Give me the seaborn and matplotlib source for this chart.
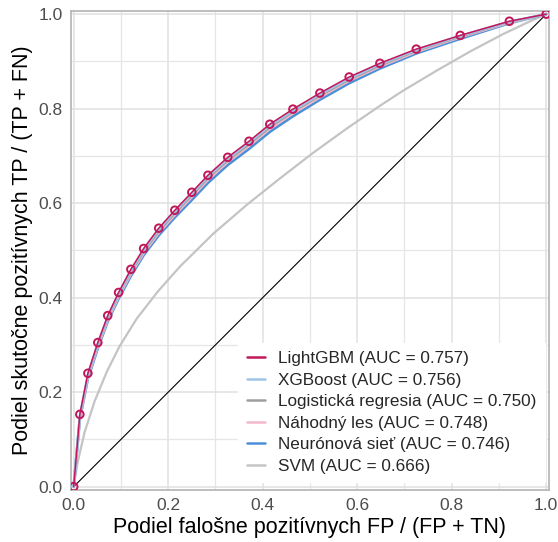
import numpy as np
import pandas as pd
import matplotlib
matplotlib.use("Agg")
import matplotlib.pyplot as plt
import seaborn as sns
from matplotlib.ticker import MultipleLocator

# ---- data ----
roc_fpr = [0.0, 0.013, 0.030, 0.051, 0.072, 0.095, 0.121, 0.148, 0.180, 0.214, 0.250,
           0.284, 0.326, 0.371, 0.415, 0.464, 0.521, 0.583, 0.648, 0.725, 0.818, 0.922, 1.0]
lgbm_tpr = [0.0, 0.153, 0.240, 0.305, 0.362, 0.411, 0.460, 0.504, 0.547, 0.585, 0.623,
            0.659, 0.697, 0.731, 0.767, 0.799, 0.833, 0.867, 0.896, 0.926, 0.955, 0.985, 1.0]
xgb_tpr = [0.0, 0.150, 0.237, 0.302, 0.359, 0.408, 0.457, 0.501, 0.544, 0.582, 0.620,
           0.656, 0.694, 0.728, 0.764, 0.796, 0.830, 0.864, 0.894, 0.924, 0.954, 0.984, 1.0]
logreg_tpr = [0.0, 0.147, 0.234, 0.299, 0.356, 0.405, 0.453, 0.497, 0.540, 0.578, 0.616,
              0.652, 0.690, 0.724, 0.760, 0.793, 0.827, 0.861, 0.891, 0.922, 0.952, 0.983, 1.0]
rf_tpr = [0.0, 0.145, 0.232, 0.296, 0.353, 0.402, 0.450, 0.494, 0.537, 0.575, 0.613,
          0.649, 0.687, 0.721, 0.757, 0.790, 0.824, 0.859, 0.889, 0.920, 0.951, 0.982, 1.0]
nn_tpr = [0.0, 0.143, 0.229, 0.293, 0.350, 0.398, 0.446, 0.490, 0.532, 0.570, 0.607,
          0.643, 0.681, 0.715, 0.751, 0.784, 0.819, 0.854, 0.885, 0.917, 0.948, 0.981, 1.0]

svm_fpr = [0.0, 0.008, 0.023, 0.044, 0.070, 0.097, 0.133, 0.178, 0.225, 0.295, 0.367,
           0.436, 0.506, 0.578, 0.648, 0.697, 0.769, 0.839, 0.909, 0.966, 1.0]
svm_tpr = [0.0, 0.050, 0.115, 0.180, 0.243, 0.297, 0.355, 0.413, 0.466, 0.535, 0.597,
           0.652, 0.706, 0.758, 0.806, 0.838, 0.881, 0.921, 0.958, 0.985, 1.0]

labels = ["LightGBM (AUC = 0.757)", "XGBoost (AUC = 0.756)", "Logistická regresia (AUC = 0.750)",
          "Náhodný les (AUC = 0.748)", "Neurónová sieť (AUC = 0.746)", "SVM (AUC = 0.666)"]
colors = ["#C2185B", "#9EC5E8", "#9E9E9E", "#F4B8CB", "#4A90D9", "#C4C4C4"]

ticks = [0.0, 0.2, 0.4, 0.6, 0.8, 1.0]
tick_labels = ["0.0", "0.2", "0.4", "0.6", "0.8", "1.0"]

# ---- figure ----
sns.set_style("white")
plt.rcParams["font.family"] = ["Liberation Sans", "DejaVu Sans"]

fig = plt.figure(figsize=(5.58, 5.42), dpi=100)
ax = fig.add_axes([0.127, 0.096, 0.857, 0.884])

# diagonal
ax.plot([0, 1], [0, 1], color="black", linewidth=0.8, zorder=1)

curves = [
    (svm_fpr, svm_tpr, labels[5], colors[5], 1.6),
    (roc_fpr, nn_tpr, labels[4], colors[4], 2.0),
    (roc_fpr, rf_tpr, labels[3], colors[3], 1.8),
    (roc_fpr, logreg_tpr, labels[2], colors[2], 1.3),
    (roc_fpr, xgb_tpr, labels[1], colors[1], 1.8),
    (roc_fpr, lgbm_tpr, labels[0], colors[0], 1.1),
]
for fx, fy, lab, col, lw in curves:
    df = pd.DataFrame({"fpr": fx, "tpr": fy})
    sns.lineplot(data=df, x="fpr", y="tpr", ax=ax, color=col, linewidth=lw,
                 sort=False, estimator=None, label=lab, zorder=3)

df_pts = pd.DataFrame({"fpr": roc_fpr, "tpr": lgbm_tpr})
sns.scatterplot(data=df_pts, x="fpr", y="tpr", ax=ax, facecolor="none",
                edgecolor=colors[0], linewidth=1.4, s=30, zorder=4, legend=False)

h, l = ax.get_legend_handles_labels()
order = [l.index(lab) for lab in labels]
leg = ax.legend([h[i] for i in order], [l[i] for i in order], loc="lower right",
                bbox_to_anchor=(1.008, 0.0), frameon=True, fancybox=False,
                framealpha=1.0, edgecolor="white", facecolor="white",
                fontsize=12.3, handlelength=1.1, handletextpad=0.75,
                labelspacing=0.38, borderpad=0.5, borderaxespad=0.45)
for line in leg.get_lines():
    line.set_linewidth(1.8)
leg.set_zorder(5)

ax.set_xlim(-0.006, 1.006)
ax.set_ylim(-0.007, 1.007)
ax.set_xticks(ticks)
ax.set_xticklabels(tick_labels)
ax.set_yticks(ticks)
ax.set_yticklabels(tick_labels)
ax.xaxis.set_minor_locator(MultipleLocator(0.1))
ax.yaxis.set_minor_locator(MultipleLocator(0.1))
ax.tick_params(axis="both", which="major", labelsize=12.5, labelcolor="#4d4d4d",
               color="#b3b3b3", length=4, width=0.8, direction="out", pad=2)
ax.tick_params(axis="both", which="minor", length=0)
ax.set_axisbelow(True)
ax.grid(True, which="major", color="#e0e0e0", linewidth=1.1, zorder=0)
ax.grid(True, which="minor", color="#e6e6e6", linewidth=0.9, zorder=0)

for s in ax.spines.values():
    s.set_color("#b3b3b3")
    s.set_linewidth(1.2)

ax.set_xlabel("Podiel falošne pozitívnych FP / (FP + TN)", fontsize=15.5, color="black", labelpad=3)
ax.set_ylabel("Podiel skutočne pozitívnych TP / (TP + FN)", fontsize=15.5, color="black", labelpad=4)

fig.savefig("out.png", dpi=100)
